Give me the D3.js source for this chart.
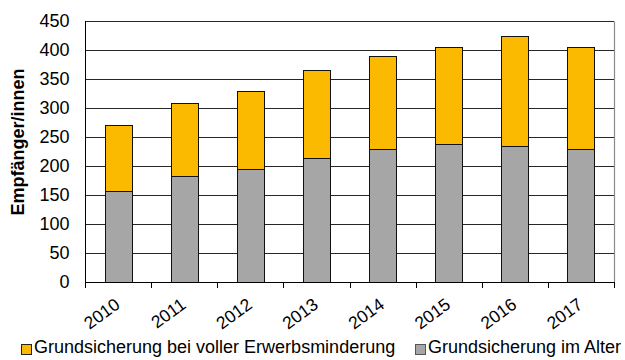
<!DOCTYPE html>
<html>
<head>
<meta charset="utf-8">
<script src="https://cdn.jsdelivr.net/npm/d3@7"></script>
<style>
  html, body { margin: 0; padding: 0; background: #fff; }
  svg { display: block; font-family: "Liberation Sans", Arial, sans-serif; }
</style>
</head>
<body>
<svg id="chart" width="625" height="360"></svg>
<script>
// Empfänger/innen von Grundsicherung, 2010–2017
const years = ["2010", "2011", "2012", "2013", "2014", "2015", "2016", "2017"];
const imAlter = [157, 182, 194, 213, 230, 238, 234, 229];
const erwerbsminderung = [113, 127, 136, 153, 160, 168, 191, 177];
const yTicks = [0, 50, 100, 150, 200, 250, 300, 350, 400, 450];

const seriesNames = ["Grundsicherung bei voller Erwerbsminderung", "Grundsicherung im Alter"];
const colors = { erwerb: "#FBB900", alter: "#A6A6A6" };

const svg = d3.select("#chart");
const plotLeft = 85, plotRight = 614, plotTop = 21, plotBottom = 282;

const x = d3.scaleBand().domain(years).range([plotLeft, plotRight]).padding(0);
const y = d3.scaleLinear().domain([0, 450]).range([plotBottom, plotTop]);

// stacked rows: Alter at the bottom, Erwerbsminderung on top
const rows = years.map((yr, i) => ({ year: yr, alter: imAlter[i], erwerb: erwerbsminderung[i] }));
const stacked = d3.stack().keys(["alter", "erwerb"])(rows);

// gridlines
svg.append("g").selectAll("line")
  .data(yTicks.filter(t => t > 0))
  .join("line")
  .attr("x1", plotLeft).attr("x2", plotRight)
  .attr("y1", d => Math.round(y(d)) + 0.5).attr("y2", d => Math.round(y(d)) + 0.5)
  .attr("stroke", "#262626").attr("stroke-width", 1);

// right frame edge
svg.append("line")
  .attr("x1", plotRight + 0.5).attr("x2", plotRight + 0.5)
  .attr("y1", Math.round(y(450)) + 0.5).attr("y2", plotBottom + 0.5)
  .attr("stroke", "#8a8a8a").attr("stroke-width", 1.2);

// bars
const barW = x.bandwidth() * 0.41;
svg.append("g").selectAll("g")
  .data(stacked)
  .join("g")
  .attr("fill", d => colors[d.key])
  .selectAll("rect")
  .data(d => d)
  .join("rect")
  .attr("x", d => Math.round(x(d.data.year) + (x.bandwidth() - barW) / 2) + 0.5)
  .attr("width", Math.round(barW))
  .attr("y", d => Math.round(y(d[1])) + 0.5)
  .attr("height", d => Math.round(y(d[0])) - Math.round(y(d[1])))
  .attr("stroke", "#111").attr("stroke-width", 1);

// y axis
const yAxis = svg.append("g")
  .attr("transform", `translate(${plotLeft + 0.5},0)`)
  .call(d3.axisLeft(y).tickValues(yTicks).tickSize(0).tickPadding(16));
yAxis.select(".domain").attr("stroke", "#000").attr("d", `M0,${Math.round(y(450))}V${plotBottom + 0.5}`);
yAxis.selectAll("text").attr("font-size", 18).attr("fill", "#000")
  .attr("font-family", "Liberation Sans, Arial, sans-serif");

// x axis line with ticks at category boundaries
svg.append("line")
  .attr("x1", plotLeft).attr("x2", plotRight + 1)
  .attr("y1", plotBottom + 0.5).attr("y2", plotBottom + 0.5)
  .attr("stroke", "#000");
const bounds = years.map(d => x(d)).concat([plotRight]);
svg.append("g").selectAll("line")
  .data(bounds)
  .join("line")
  .attr("x1", d => Math.round(d) + 0.5).attr("x2", d => Math.round(d) + 0.5)
  .attr("y1", plotBottom).attr("y2", plotBottom + 6)
  .attr("stroke", "#000");

// rotated year labels
svg.append("g").selectAll("text")
  .data(years)
  .join("text")
  .attr("transform", d => `translate(${x(d) + x.bandwidth() / 2 + 3},${307}) rotate(-36)`)
  .attr("text-anchor", "end")
  .attr("font-size", 17.5)
  .attr("fill", "#000")
  .text(d => d);

// y axis title
svg.append("text")
  .attr("transform", `translate(24,${(67 + 217) / 2}) rotate(-90)`)
  .attr("text-anchor", "middle")
  .attr("font-size", 18)
  .attr("font-weight", "bold")
  .attr("fill", "#000")
  .text("Empfänger/innen");

// legend
const legendItems = [
  { name: seriesNames[0], fill: colors.erwerb, stroke: "#222", x: 21 },
  { name: seriesNames[1], fill: colors.alter, stroke: "#555", x: 415 }
];
const lg = svg.append("g").selectAll("g").data(legendItems).join("g");
lg.append("rect")
  .attr("x", d => d.x + 0.5).attr("y", 344.5)
  .attr("width", 10).attr("height", 10)
  .attr("fill", d => d.fill).attr("stroke", d => d.stroke);
lg.append("text")
  .attr("x", d => d.x + 13).attr("y", 353)
  .attr("font-size", 18).attr("fill", "#000")
  .text(d => d.name);
</script>
</body>
</html>
